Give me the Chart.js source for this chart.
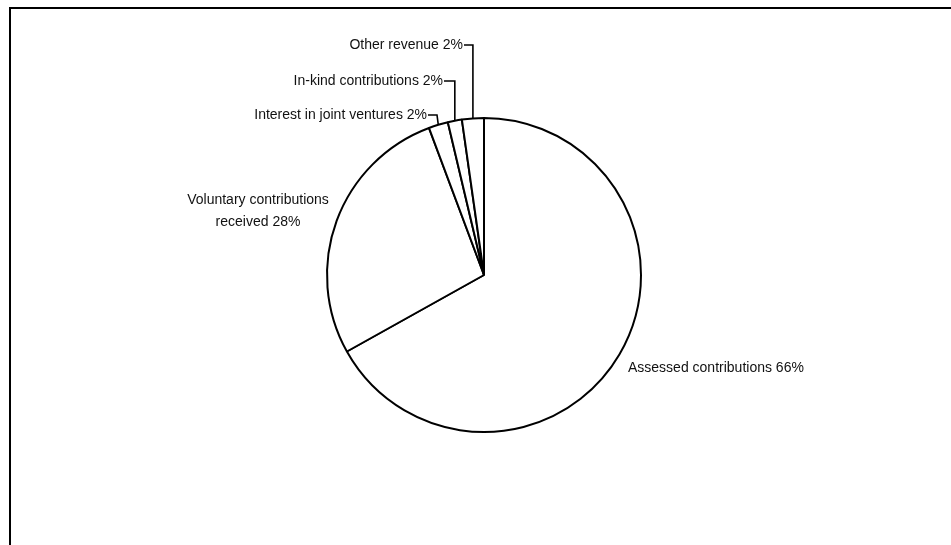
<!DOCTYPE html>
<html>
<head>
<meta charset="utf-8">
<script src="https://cdn.jsdelivr.net/npm/chart.js@4.4.1/dist/chart.umd.min.js"></script>
<style>
  html, body { margin: 0; padding: 0; background: #fff; }
  #wrap { width: 951px; height: 545px; }
</style>
</head>
<body>
<div id="wrap"><canvas id="revenue-pie" width="951" height="545"></canvas></div>
<script>
const REVENUE_CATEGORIES = ["Assessed contributions", "Voluntary contributions received", "Interest in joint ventures", "In-kind contributions", "Other revenue"];
const REVENUE_SHARES = [66.9, 27.4, 2.0, 1.45, 2.25];
const REVENUE_PERCENT_LABELS = ["66%", "28%", "2%", "2%", "2%"];

const LABEL_FONT = '14px "Liberation Sans", Arial, sans-serif';
const PIE_RADIUS = 157;

// where each label sits, relative to the pie centre (layout only)
const labelLayout = [
  { align: 'left', dx: 144, dy: 93, lines: 1 },
  { align: 'center', dx: -226, dy: -75, lines: 2, breakAt: 'received' },
  { align: 'right', dx: -57, dy: -160, leader: 9 },
  { align: 'right', dx: -41, dy: -194, leader: 'vertical' },
  { align: 'right', dx: -21, dy: -230, leader: 'vertical' }
];

const framePlugin = {
  id: 'frame',
  beforeDraw(chart) {
    const ctx = chart.ctx;
    ctx.save();
    ctx.strokeStyle = '#000';
    ctx.lineWidth = 2;
    ctx.beginPath();
    ctx.moveTo(10, chart.height);
    ctx.lineTo(10, 8);
    ctx.lineTo(chart.width, 8);
    ctx.stroke();
    ctx.restore();
  }
};

const pieLabelsPlugin = {
  id: 'pieLabels',
  afterDatasetsDraw(chart) {
    const ctx = chart.ctx;
    const arcs = chart.getDatasetMeta(0).data;
    ctx.save();
    ctx.font = LABEL_FONT;
    ctx.fillStyle = '#111';
    ctx.strokeStyle = '#000';
    ctx.lineWidth = 1.6;
    ctx.textBaseline = 'middle';
    arcs.forEach((arc, i) => {
      const lay = labelLayout[i];
      const cx = arc.x, cy = arc.y, r = arc.outerRadius;
      const mid = (arc.startAngle + arc.endAngle) / 2;
      const ex = cx + r * Math.cos(mid);
      const ey = cy + r * Math.sin(mid);
      const tx = cx + lay.dx;
      const ty = cy + lay.dy;
      ctx.textAlign = lay.align;
      if (lay.lines === 2) {
        const name = chart.data.labels[i];
        const cut = name.indexOf(lay.breakAt);
        ctx.fillText(name.slice(0, cut).trim(), tx, ty);
        ctx.fillText(name.slice(cut) + ' ' + REVENUE_PERCENT_LABELS[i], tx, ty + 22);
      } else {
        ctx.fillText(chart.data.labels[i] + ' ' + REVENUE_PERCENT_LABELS[i], tx, ty);
      }
      if (lay.leader) {
        const elbowX = lay.leader === 'vertical' ? ex : tx + 1 + lay.leader;
        ctx.beginPath();
        ctx.moveTo(tx + 1, ty);
        ctx.lineTo(elbowX, ty);
        ctx.lineTo(ex, ey);
        ctx.stroke();
      }
    });
    ctx.restore();
  }
};

const revenueChart = new Chart(document.getElementById('revenue-pie'), {
  type: 'pie',
  data: {
    labels: REVENUE_CATEGORIES,
    datasets: [{
      data: REVENUE_SHARES,
      backgroundColor: '#ffffff',
      borderColor: '#000000',
      borderWidth: 2,
      radius: PIE_RADIUS
    }]
  },
  options: {
    responsive: false,
    animation: false,
    events: [],
    devicePixelRatio: 1,
    radius: PIE_RADIUS,
    layout: {
      padding: { left: 17, top: 5, right: 0, bottom: 0 }
    },
    plugins: {
      legend: { display: false },
      title: { display: false },
      tooltip: { enabled: false }
    }
  },
  plugins: [framePlugin, pieLabelsPlugin]
});
</script>
</body>
</html>
